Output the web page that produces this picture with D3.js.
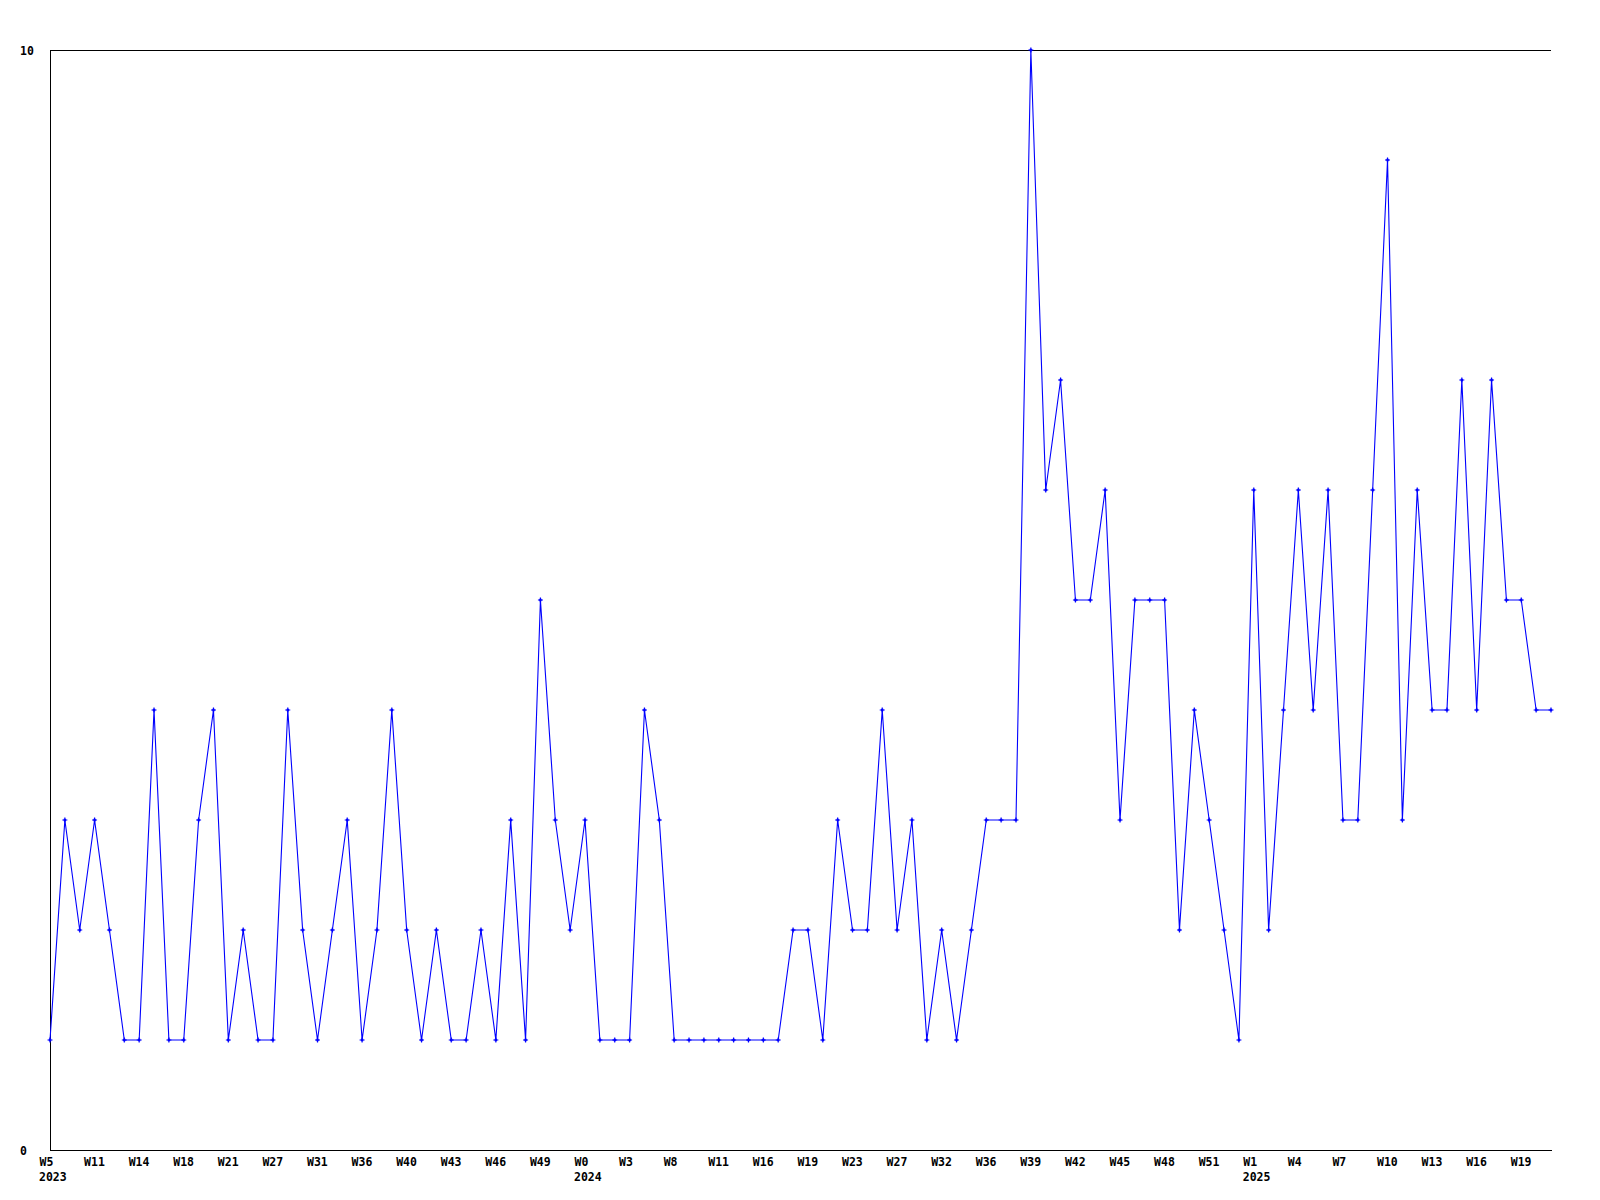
<!DOCTYPE html>
<html>
<head>
<meta charset="utf-8">
<script src="https://cdn.jsdelivr.net/npm/d3@7"></script>
<style>
  html, body { margin: 0; padding: 0; background: #fff; }
  svg text { font-family: "DejaVu Sans Mono", monospace; font-weight: bold; font-size: 11.5px; fill: #000; }
</style>
</head>
<body>
<svg id="chart" width="1600" height="1200"></svg>
<script>
// Weekly counts (one point per record, 102 records)
const values = [
  1,3,2,3,2,1,1,4,1,1,
  3,4,1,2,1,1,4,2,1,2,
  3,1,2,4,2,1,2,1,1,2,
  1,3,1,5,3,2,3,1,1,1,
  4,3,1,1,1,1,1,1,1,1,
  2,2,1,3,2,2,4,2,3,1,
  2,1,2,3,3,3,10,6,7,5,
  5,6,3,5,5,5,2,4,3,2,
  1,6,2,4,6,4,6,3,3,6,
  9,3,6,4,4,7,4,7,5,5,
  4,4
];
// Tick labels, every third record
const weekLabels = ["W5","W11","W14","W18","W21","W27","W31","W36","W40","W43","W46","W49",
  "W0","W3","W8","W11","W16","W19","W23","W27","W32","W36","W39","W42","W45","W48","W51",
  "W1","W4","W7","W10","W13","W16","W19"];
const tickStep = 3;
const yearLabels = ["2023","2024","2025"];
const yearIndex = [0, 36, 81];
const yTicks = [0, 10];

const svg = d3.select("#chart");
const mLeft = 50, mRight = 1551, mTop = 50, mBottom = 1150;

const x = d3.scaleLinear().domain([0, values.length - 1]).range([mLeft, mRight]);
const y = d3.scaleLinear().domain([0, 10]).range([mBottom, mTop]);

// top border
svg.append("line")
  .attr("x1", mLeft).attr("x2", mRight)
  .attr("y1", y(10) + 0.5).attr("y2", y(10) + 0.5)
  .attr("stroke", "#000").attr("stroke-width", 1).attr("shape-rendering", "crispEdges");

// bottom axis
const tickIdx = weekLabels.map((_, i) => i * tickStep);
const xAxis = svg.append("g")
  .attr("transform", `translate(0,${mBottom})`)
  .call(d3.axisBottom(x).tickValues(tickIdx).tickFormat((d, i) => weekLabels[i]).tickSize(0).tickSizeOuter(0).tickPadding(0));
xAxis.attr("font-family", null).attr("font-size", null);
xAxis.select(".domain").attr("stroke", "#000").attr("shape-rendering", "crispEdges");
xAxis.selectAll(".tick text")
  .attr("text-anchor", "start").attr("dx", -11).attr("y", 16).attr("dy", 0);

// year labels
svg.append("g").selectAll("text").data(yearLabels).join("text")
  .attr("x", (d, i) => x(yearIndex[i]) - 11)
  .attr("y", 1181)
  .attr("text-anchor", "start")
  .text(d => d);

// left axis
const yAxis = svg.append("g")
  .attr("transform", `translate(${mLeft},0)`)
  .call(d3.axisLeft(y).tickValues(yTicks).tickFormat(d3.format("d")).tickSize(0).tickSizeOuter(0).tickPadding(0));
yAxis.attr("font-family", null).attr("font-size", null);
yAxis.select(".domain").attr("stroke", "#000").attr("shape-rendering", "crispEdges");
yAxis.selectAll(".tick text")
  .attr("text-anchor", "start").attr("x", -30).attr("dy", "0.35em");

// line
const line = d3.line().x((d, i) => x(i)).y(d => y(d));
svg.append("path")
  .datum(values)
  .attr("d", line)
  .attr("fill", "none")
  .attr("stroke", "#0000ff")
  .attr("stroke-width", 1.1);

// markers
const mk = svg.append("g").attr("fill", "#0000ff").attr("stroke", "#0000ff");
mk.selectAll("path").data(values).join("path")
  .attr("transform", (d, i) => `translate(${x(i)},${y(d)})`)
  .attr("d", "M-2.5,0H2.5M0,-2.5V2.5")
  .attr("stroke-width", 1.2);
mk.selectAll("rect").data(values).join("rect")
  .attr("x", (d, i) => x(i) - 1.2)
  .attr("y", d => y(d) - 1.2)
  .attr("width", 2.4).attr("height", 2.4)
  .attr("stroke", "none");
</script>
</body>
</html>
